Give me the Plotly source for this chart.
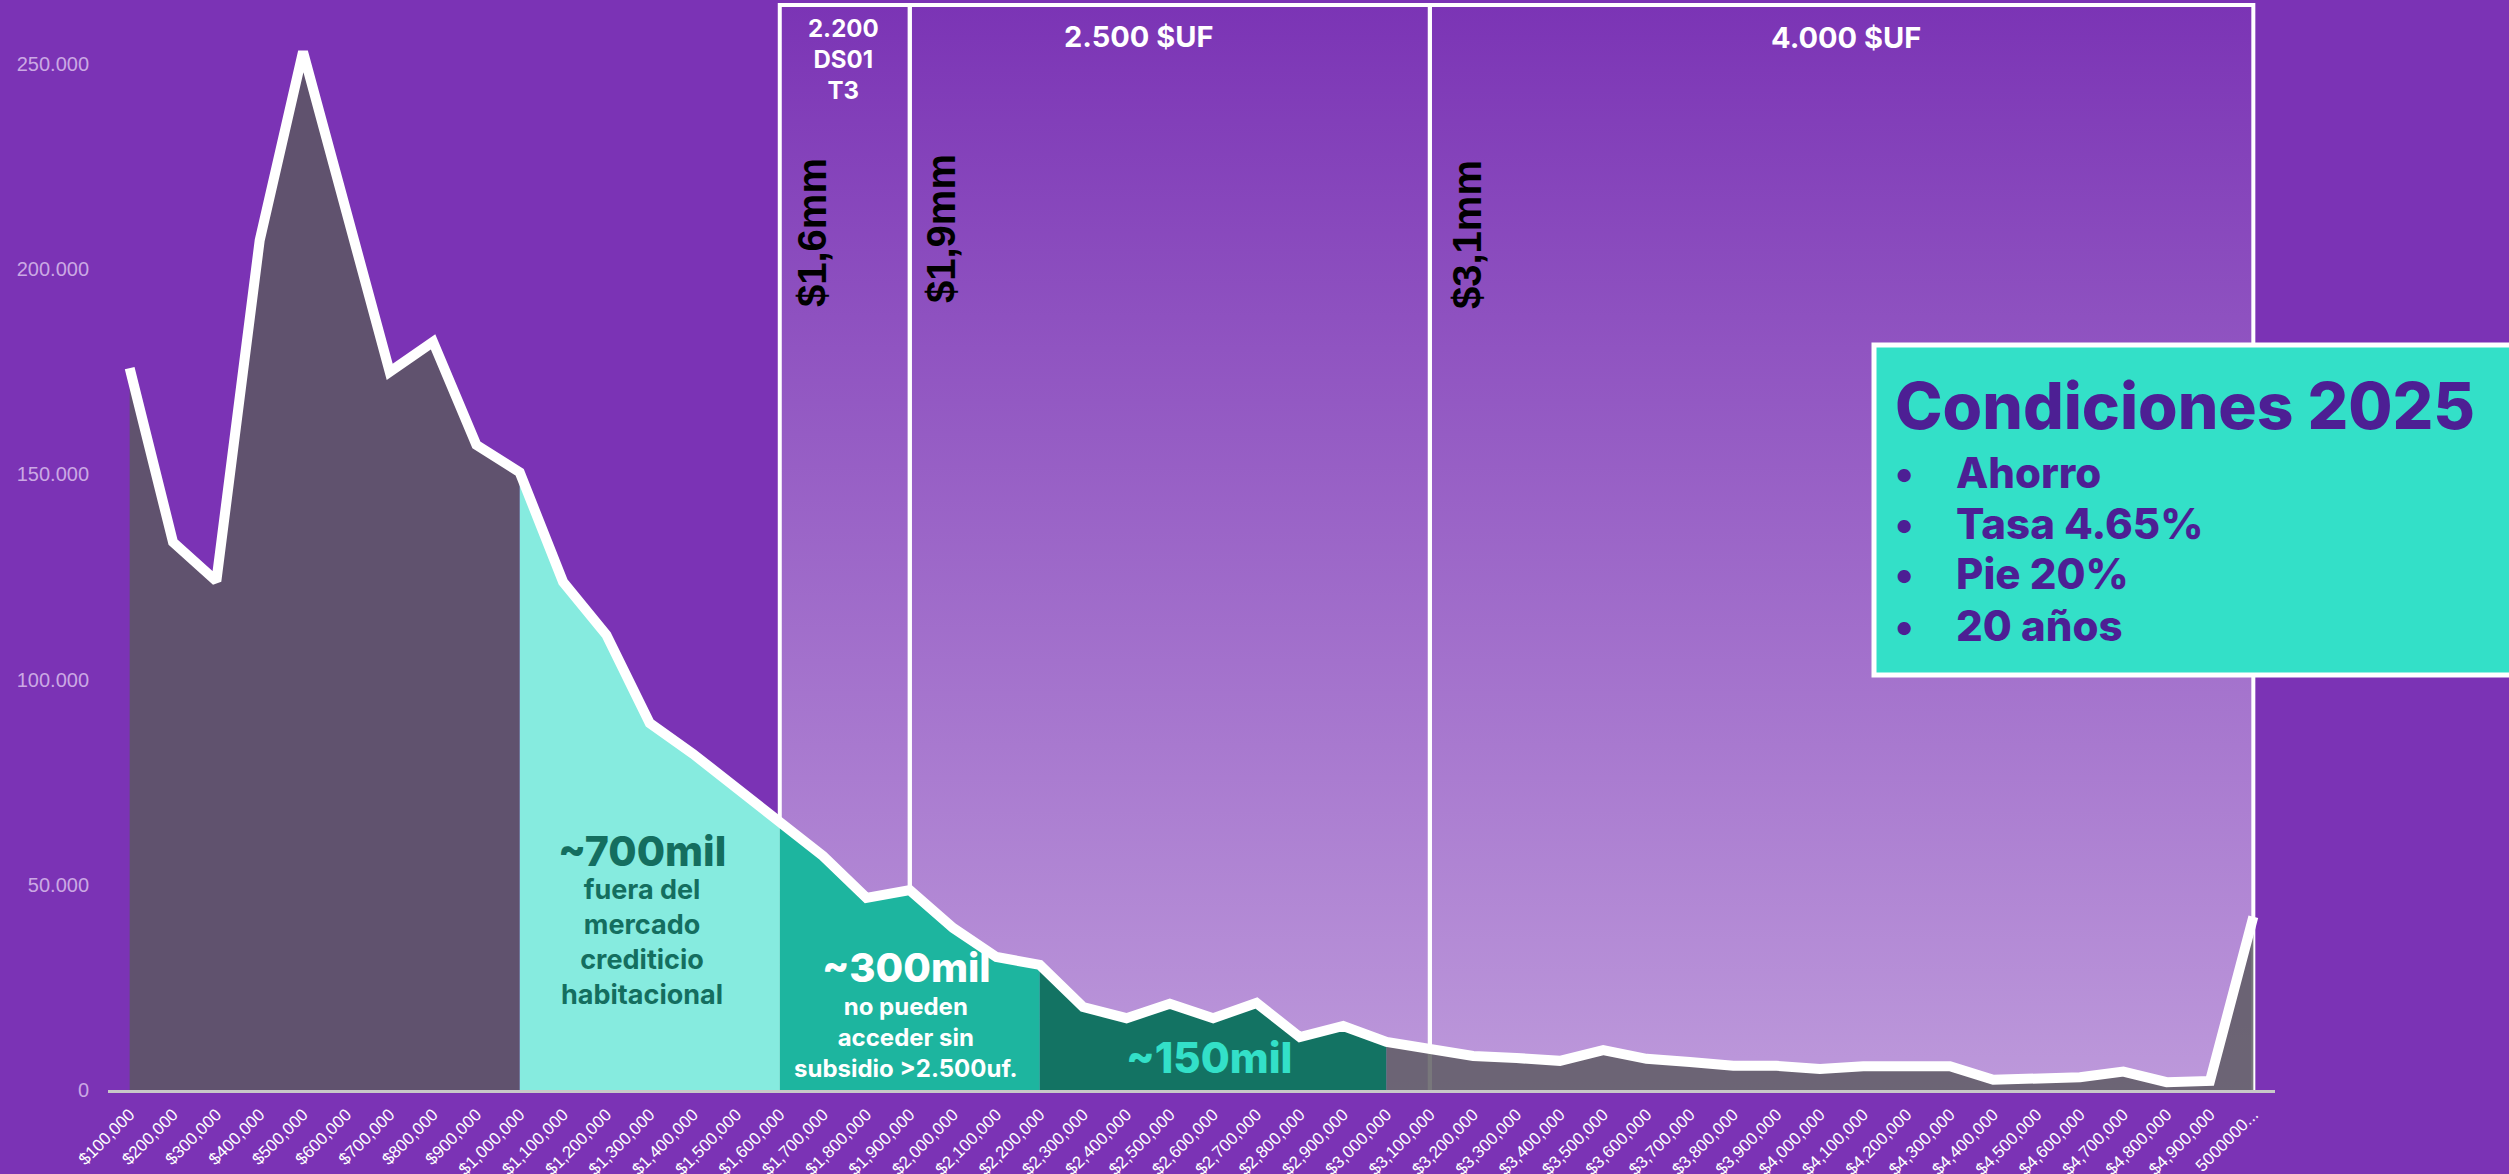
import plotly.graph_objects as go

# Price brackets (house value) and number of households in each bracket
price_labels = [
    "$100,000", "$200,000", "$300,000", "$400,000", "$500,000",
    "$600,000", "$700,000", "$800,000", "$900,000", "$1,000,000",
    "$1,100,000", "$1,200,000", "$1,300,000", "$1,400,000", "$1,500,000",
    "$1,600,000", "$1,700,000", "$1,800,000", "$1,900,000", "$2,000,000",
    "$2,100,000", "$2,200,000", "$2,300,000", "$2,400,000", "$2,500,000",
    "$2,600,000", "$2,700,000", "$2,800,000", "$2,900,000", "$3,000,000",
    "$3,100,000", "$3,200,000", "$3,300,000", "$3,400,000", "$3,500,000",
    "$3,600,000", "$3,700,000", "$3,800,000", "$3,900,000", "$4,000,000",
    "$4,100,000", "$4,200,000", "$4,300,000", "$4,400,000", "$4,500,000",
    "$4,600,000", "$4,700,000", "$4,800,000", "$4,900,000", "5000000...",
]
households = [
    175900, 133500, 124000, 207000, 253000,
    213000, 175000, 182300, 157200, 150500,
    123800, 110900, 89400, 81900, 73800,
    65300, 57000, 46800, 48700, 39500,
    32400, 30500, 20200, 17500, 21000,
    17500, 21200, 12900, 15600, 11700,
    9700, 8300, 7800, 7100, 9700,
    7600, 6800, 5900, 5900, 5100,
    5800, 5500, 5800, 2500, 2700,
    3100, 4500, 1900, 2200, 42200,
]

y_tick_values = [0, 50000, 100000, 150000, 200000, 250000]
y_tick_labels = ["0", "50.000", "100.000", "150.000", "200.000", "250.000"]

# Coloured bands under the curve: (from bracket, to bracket, colour)
bands = [
    ("$100,000", "$1,000,000", "rgba(90,89,94,0.82)"),
    ("$1,000,000", "$1,600,000", "#86ebdf"),
    ("$1,600,000", "$2,200,000", "#1db59f"),
    ("$2,200,000", "$3,000,000", "#137363"),
    ("$3,000,000", "5000000...", "rgba(90,89,94,0.82)"),
]

# Subsidy / credit ceilings drawn as framed columns
ceilings = [
    ("$1,600,000", "$1,900,000"),
    ("$1,900,000", "$3,100,000"),
    ("$3,100,000", "5000000..."),
]

BG = "#7b33b5"
W, H = 2509, 1174
ML, MR, MT, MB = 108, 234, 0, 84
PW, PH = W - ML - MR, H - MT - MB
Y_MAX = 265600
CEILING_TOP = 264400


def px(x):
    return (x - ML) / PW


def py(y):
    return (H - MB - y) / PH


idx = {lab: i for i, lab in enumerate(price_labels)}
fig = go.Figure()

# gradient columns
for a, b in ceilings:
    i0, i1 = idx[a], idx[b]
    fig.add_trace(go.Scatter(
        x=[i0, i1, i1, i0, i0], y=[0, 0, CEILING_TOP, CEILING_TOP, 0],
        mode="lines", line=dict(width=0), fill="toself",
        fillgradient=dict(type="vertical",
                          colorscale=[[0, "#bd99db"], [1, "#7b34b5"]]),
        hoverinfo="skip", showlegend=False,
    ))
# column frames
for a, b in ceilings:
    i0, i1 = idx[a], idx[b]
    fig.add_trace(go.Scatter(
        x=[i0, i0, i1, i1], y=[0, CEILING_TOP, CEILING_TOP, 0],
        mode="lines", line=dict(color="white", width=4),
        hoverinfo="skip", showlegend=False,
    ))

# coloured areas under the curve
for a, b, col in bands:
    i0, i1 = idx[a], idx[b]
    fig.add_trace(go.Scatter(
        x=list(range(i0, i1 + 1)), y=households[i0:i1 + 1],
        mode="lines", line=dict(width=0), fill="tozeroy", fillcolor=col,
        hoverinfo="skip", showlegend=False,
    ))

# distribution curve
fig.add_trace(go.Scatter(
    x=list(range(len(price_labels))), y=households,
    mode="lines", line=dict(color="white", width=10),
    showlegend=False,
))

TXT = "Inter"


def note(text, x, y, size, color, weight=700, family=TXT, angle=0,
         xanchor="center", yanchor="middle", align="center"):
    fig.add_annotation(
        text=text, x=px(x), y=py(y), xref="paper", yref="paper",
        showarrow=False, textangle=angle, xanchor=xanchor, yanchor=yanchor,
        align=align,
        font=dict(family=family, size=size, color=color, weight=weight),
    )


# column headings
note("2.200<br>DS01<br>T3", 843, 59, 24, "white")
note("2.500 $UF", 1139, 37, 29, "white")
note("4.000 $UF", 1846, 38, 29, "white")

# price thresholds
VF = "Liberation Sans"
note("$1,6mm", 812, 233, 40, "black", family=VF, angle=-90)
note("$1,9mm", 941, 229, 40, "black", family=VF, angle=-90)
note("$3,1mm", 1467, 235, 40, "black", family=VF, angle=-90)

# band descriptions
note("~700mil", 642, 851, 41, "#146e5f", weight=800)
note("fuera del<br>mercado<br>crediticio<br>habitacional", 642, 942, 27,
     "#146e5f")
note("~300mil", 906, 967, 40, "white", weight=800)
note("no pueden<br>acceder sin<br>subsidio >2.500uf.", 906, 1037, 24, "white")
note("~150mil", 1209, 1057, 42, "#33e0c8", weight=800)

# conditions panel
fig.add_shape(type="rect", xref="paper", yref="paper",
              x0=px(1874), x1=px(2530), y0=py(675), y1=py(345),
              fillcolor="#33e0c8", line=dict(color="white", width=5),
              layer="above")
PURPLE = "#4d1f94"
note("Condiciones 2025", 1893, 405, 64, PURPLE, weight=800, xanchor="left")
for yy, item in zip([472, 523, 573, 625],
                    ["Ahorro", "Tasa 4.65%", "Pie 20%", "20 años"]):
    note("•", 1893, yy, 42, PURPLE, weight=800, xanchor="left")
    note(item, 1954, yy, 42, PURPLE, weight=800, xanchor="left")

fig.update_layout(
    width=W, height=H, autosize=False,
    margin=dict(l=ML, r=MR, t=MT, b=MB, pad=0),
    paper_bgcolor=BG, plot_bgcolor=BG,
    showlegend=False,
    xaxis=dict(
        range=[-0.5, len(price_labels) - 0.5],
        tickmode="array", tickvals=list(range(len(price_labels))),
        ticktext=price_labels, tickangle=-45,
        tickfont=dict(family="Liberation Sans", size=17, color="white"),
        showgrid=False, zeroline=False, automargin=False,
        showline=True, linecolor="#c8c8c8", linewidth=3, ticks="",
        ticklabelstandoff=5,
    ),
    yaxis=dict(
        range=[0, Y_MAX],
        tickmode="array", tickvals=y_tick_values, ticktext=y_tick_labels,
        tickfont=dict(family="Liberation Sans", size=20, color="#cba9e4"),
        showgrid=False, zeroline=False, showline=False, ticks="",
        ticklabelstandoff=18, automargin=False,
    ),
)

fig.write_html("out.html")
